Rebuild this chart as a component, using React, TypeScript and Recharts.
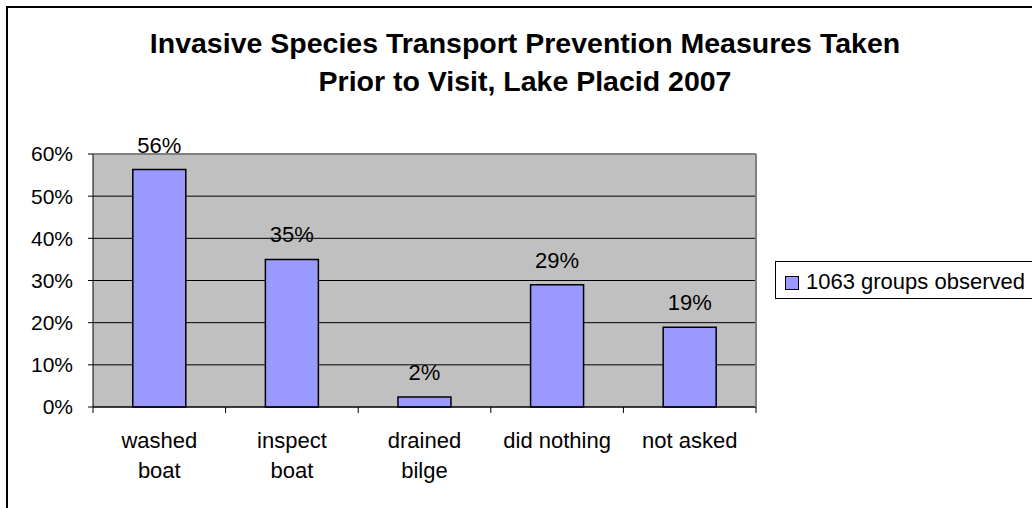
import { BarChart, Bar, XAxis, YAxis, CartesianGrid, LabelList, ReferenceLine } from "recharts";

const FONT = "'Liberation Sans', Arial, Helvetica, sans-serif";

// survey categories (a "\n" marks where the axis label wraps)
const CATEGORIES = ["washed\nboat", "inspect\nboat", "drained\nbilge", "did nothing", "not asked"];
const SHARE_OF_GROUPS = [0.563, 0.35, 0.024, 0.29, 0.189];
const Y_TICKS = [0, 0.1, 0.2, 0.3, 0.4, 0.5, 0.6];
const SERIES_NAME = "1063 groups observed";
const TITLE_LINES = [
  "Invasive Species Transport Prevention Measures Taken",
  "Prior to Visit, Lake Placid 2007",
];

const BAR_FILL = "#9999FF";
const PLOT_FILL = "#C0C0C0";
const FRAME_GREY = "#808080";

const rows = CATEGORIES.map((name, i) => ({ name, share: SHARE_OF_GROUPS[i] }));

const pct = (v: number) => `${Math.round(v * 100)}%`;

// category label plus the boundary tick marks between categories
function CategoryTick(props: any) {
  const { x, y, payload, index } = props;
  const half = payload.offset ?? 0;
  const axisY = y - 41;
  const lines = String(payload.value).split("\n");
  return (
    <g>
      <line x1={x - half} x2={x - half} y1={axisY} y2={axisY + 6} stroke="#000" />
      {index === CATEGORIES.length - 1 && (
        <line x1={x + half} x2={x + half} y1={axisY} y2={axisY + 6} stroke="#000" />
      )}
      <text x={x} y={y} textAnchor="middle" fontSize={22} fontFamily={FONT} fill="#000">
        {lines.map((l, i) => (
          <tspan key={i} x={x} dy={i === 0 ? 0 : 30}>
            {l}
          </tspan>
        ))}
      </text>
    </g>
  );
}

export default function App() {
  return (
    <div style={{ position: "absolute", left: 0, top: 0, width: 1032, height: 508, background: "#fff", overflow: "hidden" }}>
      <BarChart
        width={1032}
        height={508}
        data={rows}
        barCategoryGap="30%"
        margin={{ top: 154, right: 275, bottom: 41, left: 0 }}
        style={{ position: "absolute", left: 0, top: 0 }}
      >
        <CartesianGrid vertical={false} fill={PLOT_FILL} fillOpacity={1} stroke="#000" strokeOpacity={1} />
        <XAxis
          dataKey="name"
          height={60}
          interval={0}
          tickLine={false}
          tickSize={6}
          tickMargin={35}
          axisLine={{ stroke: "#000" }}
          tick={<CategoryTick />}
        />
        <YAxis
          domain={[0, 0.6]}
          ticks={Y_TICKS}
          width={93}
          tickSize={5}
          tickMargin={15}
          tickFormatter={pct}
          axisLine={{ stroke: "#000" }}
          tickLine={{ stroke: "#000" }}
          tick={{ fontSize: 21, fill: "#000", fontFamily: FONT }}
        />
        <YAxis
          yAxisId="frame"
          orientation="right"
          width={1}
          tick={false}
          tickLine={false}
          axisLine={{ stroke: FRAME_GREY, strokeWidth: 2 }}
        />
        <ReferenceLine y={0.6} stroke={FRAME_GREY} strokeWidth={2} />
        <Bar dataKey="share" name={SERIES_NAME} fill={BAR_FILL} stroke="#000" strokeWidth={1.5} isAnimationActive={false}>
          <LabelList
            dataKey="share"
            position="top"
            offset={17}
            formatter={(v: any) => pct(Number(v))}
            style={{ fontSize: 22, fill: "#000", fontFamily: FONT }}
          />
        </Bar>
      </BarChart>

      <svg width={1032} height={508} style={{ position: "absolute", left: 0, top: 0, pointerEvents: "none" }}>
        <rect x={7} y={7} width={1100} height={600} fill="none" stroke="#000" strokeWidth={2} />
        {TITLE_LINES.map((t, i) => (
          <text key={t} x={525} y={53 + i * 38} textAnchor="middle" fontSize={28.5} fontWeight="bold" fontFamily={FONT} fill="#000">
            {t}
          </text>
        ))}
        <rect x={775.5} y={261.5} width={300} height={37} fill="#fff" stroke="#000" />
        <rect x={785.5} y={276.5} width={13} height={13} fill={BAR_FILL} stroke="#000" />
        <text x={806} y={288.5} fontSize={22} fontFamily={FONT} fill="#000">
          {SERIES_NAME}
        </text>
      </svg>
    </div>
  );
}
